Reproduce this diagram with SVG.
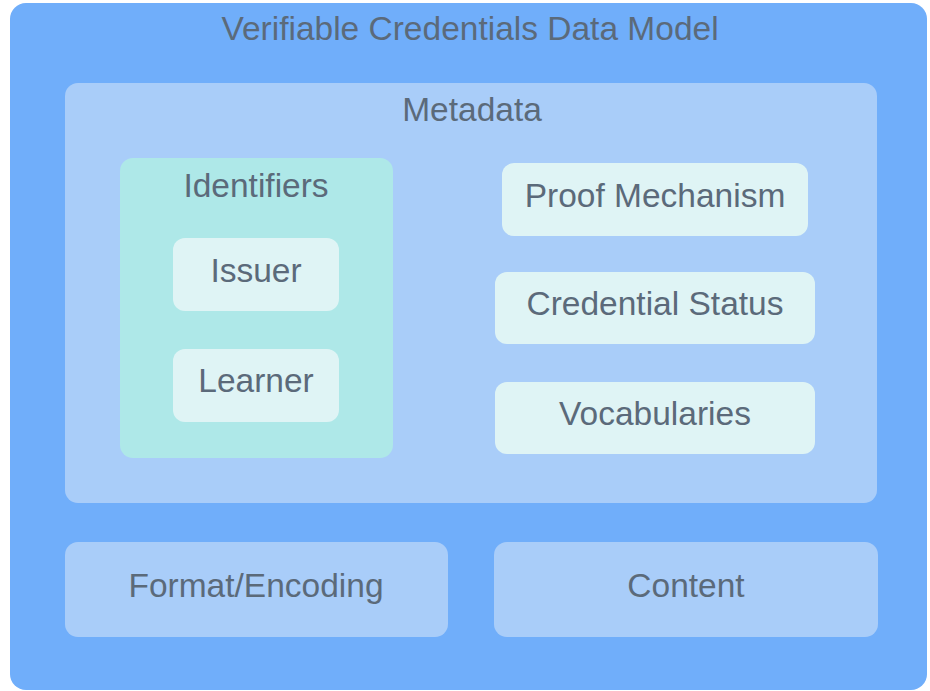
<svg xmlns="http://www.w3.org/2000/svg" width="930" height="691" viewBox="0 0 930 691">
  <style>
    text { font-family: "Liberation Sans", Arial, sans-serif; font-size: 33.5px; fill: #5b6a7a; text-anchor: middle; }
    .outer { fill: #70aefa; }
    .group { fill: #a9cdf9; }
    .ident { fill: #aee8e8; }
    .leaf { fill: #dff4f5; }
  </style>
  <rect x="0" y="0" width="930" height="691" fill="#ffffff"/>
  <g id="vcdm">
    <rect class="outer" x="10" y="3" width="917" height="687" rx="16"/>
    <text x="470" y="40">Verifiable Credentials Data Model</text>
  </g>
  <g id="metadata">
    <rect class="group" x="65" y="83" width="812" height="420" rx="13"/>
    <text x="472" y="121">Metadata</text>
  </g>
  <g id="identifiers">
    <rect class="ident" x="120" y="158" width="273" height="300" rx="13"/>
    <text x="256" y="197">Identifiers</text>
  </g>
  <g id="issuer">
    <rect class="leaf" x="173" y="238" width="166" height="73" rx="12"/>
    <text x="256" y="282">Issuer</text>
  </g>
  <g id="learner">
    <rect class="leaf" x="173" y="349" width="166" height="73" rx="12"/>
    <text x="256" y="392">Learner</text>
  </g>
  <g id="proof">
    <rect class="leaf" x="502" y="163" width="306" height="73" rx="12"/>
    <text x="655" y="207">Proof Mechanism</text>
  </g>
  <g id="status">
    <rect class="leaf" x="495" y="272" width="320" height="72" rx="12"/>
    <text x="655" y="315">Credential Status</text>
  </g>
  <g id="vocab">
    <rect class="leaf" x="495" y="382" width="320" height="72" rx="12"/>
    <text x="655" y="425">Vocabularies</text>
  </g>
  <g id="format">
    <rect class="group" x="65" y="542" width="383" height="95" rx="13"/>
    <text x="256" y="597">Format/Encoding</text>
  </g>
  <g id="content">
    <rect class="group" x="494" y="542" width="384" height="95" rx="13"/>
    <text x="686" y="597">Content</text>
  </g>
  <g id="connectors"/>
</svg>
